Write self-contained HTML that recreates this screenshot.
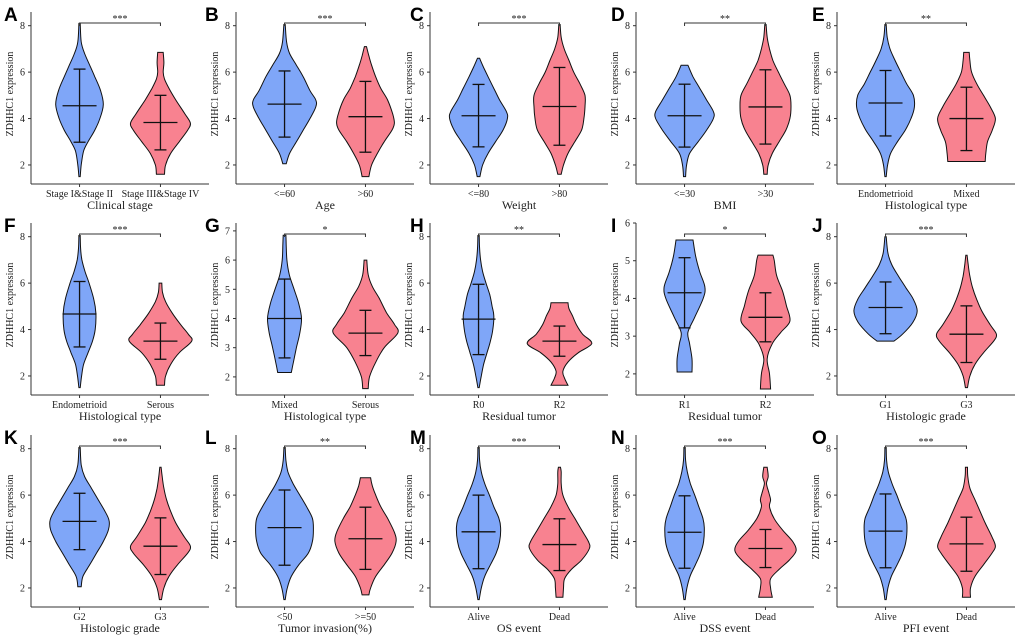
<!DOCTYPE html>
<html><head><meta charset="utf-8"><style>
html,body{margin:0;padding:0;background:#fff;}
svg{display:block;}
.tk{font-family:"Liberation Serif",serif;font-size:10px;fill:#222;}
.ttl{font-family:"Liberation Serif",serif;font-size:12px;fill:#222;}
.lab{font-family:"Liberation Sans",sans-serif;font-size:19px;font-weight:bold;fill:#000;}
</style></head><body>
<svg id="fig" width="1020" height="639" viewBox="0 0 1020 639"></svg>
<script>
const panelLabels=["A","B","C","D","E","F","G","H","I","J","K","L","M","N","O"];
const xTitles=["Clinical stage","Age","Weight","BMI","Histological type","Histological type","Histological type","Residual tumor","Residual tumor","Histologic grade","Histologic grade","Tumor invasion(%)","OS event","DSS event","PFI event"];
const groupNames=[["Stage I&Stage II","Stage III&Stage IV"],["<=60",">60"],["<=80",">80"],["<=30",">30"],["Endometrioid","Mixed"],["Endometrioid","Serous"],["Mixed","Serous"],["R0","R2"],["R1","R2"],["G1","G3"],["G2","G3"],["<50",">=50"],["Alive","Dead"],["Alive","Dead"],["Alive","Dead"]];
const sigLabels=["***","***","***","**","**","***","*","**","*","***","***","**","***","***","***"];
const yDomains=[[1.18,8.59],[1.18,8.59],[1.18,8.59],[1.18,8.59],[1.18,8.59],[1.18,8.59],[1.38,7.27],[1.18,8.59],[1.44,6.0],[1.18,8.59],[1.18,8.59],[1.18,8.59],[1.18,8.59],[1.18,8.59],[1.18,8.59]];
const yTicks=[[2,4,6,8],[2,4,6,8],[2,4,6,8],[2,4,6,8],[2,4,6,8],[2,4,6,8],[2,3,4,5,6,7],[2,4,6,8],[2,3,4,5,6],[2,4,6,8],[2,4,6,8],[2,4,6,8],[2,4,6,8],[2,4,6,8],[2,4,6,8]];
const means=[[4.55,3.83],[4.62,4.08],[4.12,4.52],[4.12,4.5],[4.67,4.0],[4.67,3.5],[4.0,3.5],[4.45,3.5],[4.15,3.5],[4.95,3.8],[4.87,3.8],[4.6,4.12],[4.42,3.87],[4.4,3.7],[4.45,3.9]];
const lows=[[2.98,2.65],[3.2,2.55],[2.78,2.85],[2.77,2.9],[3.25,2.62],[3.25,2.72],[2.65,2.73],[2.92,2.85],[3.22,2.85],[3.82,2.58],[3.65,2.58],[2.98,2.8],[2.83,2.75],[2.85,2.88],[2.87,2.72]];
const highs=[[6.13,5.0],[6.05,5.6],[5.47,6.2],[5.48,6.1],[6.07,5.35],[6.07,4.28],[5.35,4.28],[5.95,4.15],[5.08,4.15],[6.05,5.02],[6.08,5.02],[6.22,5.48],[6.0,4.98],[5.97,4.52],[6.05,5.05]];
// violin profiles: [value, density]
const blueProfiles=[
[[1.5,0.02],[2.0,0.05],[2.6,0.12],[3.0,0.25],[3.5,0.45],[4.0,0.6],[4.6,0.7],[5.2,0.62],[5.8,0.45],[6.3,0.3],[6.8,0.15],[7.3,0.05],[8.1,0.02]],
[[2.05,0.05],[2.5,0.15],[3.0,0.35],[3.5,0.55],[4.0,0.75],[4.5,0.92],[4.8,0.92],[5.2,0.75],[5.8,0.55],[6.3,0.35],[6.8,0.15],[7.3,0.06],[8.05,0.02]],
[[1.5,0.04],[2.0,0.12],[2.5,0.28],[3.0,0.5],[3.5,0.72],[4.0,0.85],[4.3,0.82],[4.8,0.62],[5.3,0.45],[5.8,0.28],[6.2,0.15],[6.6,0.03]],
[[1.5,0.03],[2.0,0.06],[2.5,0.15],[3.0,0.4],[3.5,0.65],[4.0,0.85],[4.3,0.85],[4.8,0.65],[5.3,0.45],[5.8,0.25],[6.3,0.1]],
[[1.5,0.02],[2.0,0.06],[2.5,0.15],[3.0,0.35],[3.5,0.58],[4.0,0.75],[4.5,0.85],[5.0,0.82],[5.5,0.62],[6.0,0.45],[6.5,0.28],[7.0,0.13],[7.5,0.05],[8.05,0.02]],
[[1.5,0.02],[2.0,0.06],[2.5,0.12],[3.0,0.25],[3.5,0.38],[4.0,0.46],[4.7,0.48],[5.3,0.42],[6.0,0.28],[6.5,0.16],[7.0,0.07],[7.5,0.03],[8.05,0.02]],
[[2.15,0.2],[2.5,0.26],[3.0,0.35],[3.5,0.45],[4.0,0.5],[4.5,0.42],[5.0,0.28],[5.5,0.14],[6.0,0.07],[6.5,0.05],[6.85,0.04]],
[[1.5,0.02],[2.0,0.08],[2.5,0.15],[3.0,0.25],[3.5,0.35],[4.0,0.42],[4.6,0.45],[5.0,0.4],[5.5,0.33],[6.0,0.22],[6.5,0.12],[7.0,0.06],[7.5,0.03],[8.05,0.02]],
[[2.05,0.22],[2.4,0.22],[2.8,0.15],[3.1,0.1],[3.5,0.3],[4.0,0.55],[4.3,0.6],[4.7,0.45],[5.1,0.33],[5.55,0.25]],
[[3.5,0.25],[3.8,0.5],[4.3,0.8],[4.8,0.93],[5.3,0.82],[5.8,0.6],[6.3,0.38],[6.8,0.18],[7.3,0.07],[8.0,0.02]],
[[2.05,0.05],[2.5,0.1],[3.0,0.3],[3.5,0.5],[4.0,0.7],[4.5,0.85],[4.9,0.87],[5.3,0.75],[5.8,0.55],[6.3,0.35],[6.8,0.15],[7.3,0.05],[8.05,0.02]],
[[1.5,0.02],[2.0,0.08],[2.5,0.2],[3.0,0.42],[3.5,0.7],[4.0,0.82],[4.5,0.85],[5.0,0.82],[5.5,0.65],[6.0,0.45],[6.5,0.25],[7.0,0.1],[7.5,0.04],[8.05,0.02]],
[[1.5,0.02],[2.0,0.08],[2.5,0.18],[3.0,0.35],[3.5,0.52],[4.0,0.62],[4.6,0.65],[5.0,0.6],[5.5,0.45],[6.0,0.32],[6.5,0.18],[7.0,0.08],[7.5,0.03],[8.05,0.02]],
[[1.5,0.02],[2.0,0.07],[2.5,0.16],[3.0,0.32],[3.5,0.47],[4.0,0.56],[4.6,0.58],[5.0,0.54],[5.5,0.42],[6.0,0.3],[6.5,0.17],[7.0,0.08],[7.5,0.03],[8.05,0.02]],
[[1.5,0.02],[2.0,0.07],[2.5,0.17],[3.0,0.34],[3.5,0.5],[4.0,0.6],[4.6,0.63],[5.0,0.6],[5.5,0.46],[6.0,0.33],[6.5,0.19],[7.0,0.08],[7.5,0.03],[8.05,0.02]]
];
const redProfiles=[
[[1.6,0.12],[2.0,0.15],[2.5,0.3],[3.0,0.55],[3.5,0.8],[3.8,0.88],[4.2,0.72],[4.8,0.45],[5.3,0.25],[5.7,0.12],[6.0,0.08],[6.4,0.1],[6.85,0.08]],
[[1.5,0.1],[2.0,0.18],[2.5,0.35],[3.0,0.55],[3.5,0.78],[3.8,0.85],[4.2,0.8],[4.8,0.65],[5.3,0.45],[5.8,0.3],[6.3,0.18],[6.7,0.1],[7.1,0.03]],
[[1.6,0.05],[2.0,0.12],[2.5,0.25],[3.0,0.45],[3.5,0.65],[4.0,0.72],[4.5,0.75],[5.0,0.75],[5.5,0.6],[6.0,0.42],[6.5,0.28],[7.0,0.14],[7.5,0.05],[8.05,0.02]],
[[1.6,0.05],[2.0,0.08],[2.5,0.2],[3.0,0.4],[3.5,0.6],[4.0,0.72],[4.5,0.75],[5.0,0.72],[5.5,0.55],[6.0,0.38],[6.5,0.22],[7.0,0.12],[7.5,0.05],[8.05,0.02]],
[[2.15,0.55],[2.5,0.57],[3.0,0.62],[3.5,0.76],[4.0,0.85],[4.5,0.7],[5.0,0.5],[5.5,0.3],[6.0,0.15],[6.5,0.1],[6.85,0.08]],
[[1.6,0.12],[2.0,0.15],[2.5,0.3],[3.0,0.55],[3.5,0.92],[3.8,0.82],[4.2,0.6],[4.7,0.35],[5.2,0.15],[5.6,0.06],[6.0,0.04]],
[[1.6,0.08],[2.0,0.12],[2.5,0.3],[3.0,0.55],[3.5,0.95],[3.8,0.85],[4.2,0.62],[4.7,0.4],[5.1,0.2],[5.5,0.08],[6.0,0.04]],
[[1.6,0.25],[1.9,0.15],[2.2,0.1],[2.6,0.25],[3.0,0.55],[3.4,0.95],[3.8,0.68],[4.2,0.5],[4.6,0.38],[4.9,0.28],[5.15,0.25]],
[[1.6,0.15],[2.0,0.12],[2.4,0.05],[2.8,0.2],[3.1,0.45],[3.4,0.72],[3.8,0.62],[4.2,0.5],[4.6,0.33],[5.0,0.26],[5.15,0.22]],
[[1.5,0.03],[2.0,0.1],[2.5,0.25],[3.0,0.5],[3.5,0.8],[3.8,0.88],[4.2,0.7],[4.8,0.45],[5.3,0.3],[5.8,0.18],[6.3,0.1],[6.8,0.05],[7.2,0.02]],
[[1.5,0.03],[2.0,0.1],[2.5,0.25],[3.0,0.5],[3.5,0.8],[3.8,0.88],[4.2,0.7],[4.8,0.45],[5.3,0.3],[5.8,0.18],[6.3,0.1],[6.8,0.05],[7.2,0.02]],
[[1.7,0.1],[2.0,0.15],[2.5,0.3],[3.0,0.55],[3.5,0.78],[4.0,0.9],[4.4,0.85],[5.0,0.65],[5.5,0.45],[6.0,0.3],[6.4,0.2],[6.75,0.15]],
[[1.6,0.1],[2.0,0.12],[2.4,0.15],[2.8,0.35],[3.2,0.65],[3.7,0.88],[4.0,0.85],[4.5,0.65],[5.0,0.45],[5.5,0.25],[6.0,0.1],[6.5,0.05],[7.0,0.05],[7.2,0.03]],
[[1.6,0.2],[2.0,0.15],[2.4,0.15],[2.8,0.4],[3.2,0.7],[3.6,0.9],[4.0,0.8],[4.5,0.5],[5.0,0.25],[5.5,0.12],[5.8,0.15],[6.1,0.1],[6.5,0.03],[6.8,0.08],[7.2,0.05]],
[[1.6,0.12],[2.0,0.12],[2.5,0.25],[3.0,0.5],[3.5,0.75],[3.8,0.85],[4.2,0.75],[4.8,0.55],[5.3,0.4],[5.8,0.25],[6.3,0.1],[6.8,0.04],[7.2,0.03]]
];

const NS="http://www.w3.org/2000/svg";
const svg=document.getElementById('fig');
const colAxisX=[31,236,430,636,837];
const colLabelX=[4,205,410,611,812];
const rowBottom=[184,395,607];
const PLOT_W=178, PLOT_H=172, DENS_PX=34;
const fills=["#7fa6f8","#f88290"];
function mk(tag,attrs,parent){const e=document.createElementNS(NS,tag);for(const k in attrs)e.setAttribute(k,attrs[k]);(parent||svg).appendChild(e);return e;}
function smoothPath(pts){
  let d="M"+pts[0][0].toFixed(1)+","+pts[0][1].toFixed(1);
  for(let i=0;i<pts.length-1;i++){
    const p0=pts[Math.max(i-1,0)],p1=pts[i],p2=pts[i+1],p3=pts[Math.min(i+2,pts.length-1)];
    const c1=[p1[0]+(p2[0]-p0[0])/6,p1[1]+(p2[1]-p0[1])/6];
    const c2=[p2[0]-(p3[0]-p1[0])/6,p2[1]-(p3[1]-p1[1])/6];
    d+="C"+c1[0].toFixed(1)+","+c1[1].toFixed(1)+" "+c2[0].toFixed(1)+","+c2[1].toFixed(1)+" "+p2[0].toFixed(1)+","+p2[1].toFixed(1);
  }
  return d;
}
panelLabels.forEach((lab,i)=>{
  const col=i%5,row=Math.floor(i/5);
  const ax=colAxisX[col], yb=rowBottom[row];
  const dom=yDomains[i];
  const yS=v=>yb-(v-dom[0])/(dom[1]-dom[0])*PLOT_H;
  const xS=g=>ax+PLOT_W*(g+1-0.4)/2.2;
  const g=mk('g',{});
  
  
  const t=mk('text',{x:colLabelX[col],y:yb-163,class:'lab'},g);t.textContent=lab;
  
  
  const yl=mk('line',{x1:ax,y1:yb,x2:ax,y2:yb-PLOT_H,stroke:'#333','stroke-width':1},g);
  
  
  const xl=mk('line',{x1:ax,y1:yb,x2:ax+PLOT_W,y2:yb,stroke:'#333','stroke-width':1},g);
  
  
  yTicks[i].forEach(v=>{
    const y=yS(v);
    mk('line',{x1:ax-3,y1:y,x2:ax,y2:y,stroke:'#333'},g);
    const tt=mk('text',{x:ax-6,y:y+3.5,'text-anchor':'end',class:'tk'},g);tt.textContent=v;
    
    
  });
  const yt=mk('text',{x:0,y:0,'text-anchor':'middle',class:'tk',transform:`translate(${ax-18},${yb-90}) rotate(-90)`},g);yt.textContent="ZDHHC1 expression";
  
  
  const xt=mk('text',{x:ax+PLOT_W/2,y:yb+25,'text-anchor':'middle',class:'ttl'},g);xt.textContent=xTitles[i];
  
  
  [blueProfiles[i],redProfiles[i]].forEach((prof,k)=>{
    const cx=xS(k);
    const right=prof.map(p=>[cx+p[1]*DENS_PX,yS(p[0])]);
    const left=prof.slice().reverse().map(p=>[cx-p[1]*DENS_PX,yS(p[0])]);
    let d=smoothPath(right)+"L"+left[0][0].toFixed(1)+","+left[0][1].toFixed(1)+smoothPath(left).replace(/^M[^C]*/,"")+"Z";
    const vp=mk('path',{d:d,fill:fills[k],stroke:'#111','stroke-width':1},g);
    
    
    const eb=mk('g',{stroke:'#111','stroke-width':1.3},g);
    
    
    mk('line',{x1:cx,y1:yS(lows[i][k]),x2:cx,y2:yS(highs[i][k])},eb);
    mk('line',{x1:cx-6,y1:yS(lows[i][k]),x2:cx+6,y2:yS(lows[i][k])},eb);
    mk('line',{x1:cx-6,y1:yS(highs[i][k]),x2:cx+6,y2:yS(highs[i][k])},eb);
    const ml=mk('line',{x1:cx-17,y1:yS(means[i][k]),x2:cx+17,y2:yS(means[i][k])},eb);
    
    
    mk('line',{x1:cx,y1:yb,x2:cx,y2:yb+3,stroke:'#333'},g);
    const gl=mk('text',{x:cx,y:yb+13,'text-anchor':'middle',class:'tk'},g);gl.textContent=groupNames[i][k];
    
    
  });
  const by=yb-161;
  const br=mk('path',{d:`M${xS(0)},${by+3}V${by}H${xS(1)}V${by+3}`,fill:'none',stroke:'#333','stroke-width':1},g);
  
  
  const st=mk('text',{x:(xS(0)+xS(1))/2,y:by-1,'text-anchor':'middle',class:'tk','font-size':'8'},g);st.textContent=sigLabels[i];
  
  
});
</script>
</body></html>
